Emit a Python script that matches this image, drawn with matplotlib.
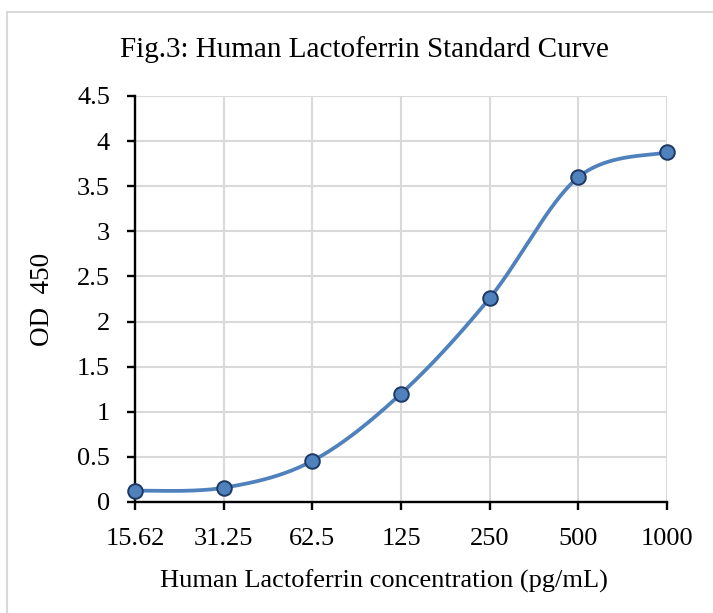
import numpy as np
import matplotlib
matplotlib.use("Agg")
import matplotlib.pyplot as plt
from matplotlib.patches import Rectangle

concentrations = ["15.62", "31.25", "62.5", "125", "250", "500", "1000"]
od450 = [0.125, 0.158, 0.455, 1.20, 2.26, 3.60, 3.877]

title = "Fig.3: Human Lactoferrin Standard Curve"
xlabel = "Human Lactoferrin concentration (pg/mL)"
ylabel = "OD  450"

plt.rcParams['font.family'] = ['Liberation Serif', 'DejaVu Serif']

fig = plt.figure(figsize=(7.13, 6.13), dpi=100)
ax = fig.add_axes([135/713, 1-502/613, (667-135)/713, (502-96)/613])

x = np.arange(len(concentrations), dtype=float)
y = np.array(od450, dtype=float)

# Excel-style smoothed line (Bezier with tangent = (P[i+1]-P[i-1])/6)
P = np.column_stack([x, y])
Pext = np.vstack([P[0], P, P[-1]])
curve = []
t = np.linspace(0, 1, 60)[:, None]
for i in range(len(P) - 1):
    p0 = Pext[i + 1]
    p3 = Pext[i + 2]
    c1 = p0 + (Pext[i + 2] - Pext[i]) / 6
    c2 = p3 - (Pext[i + 3] - Pext[i + 1]) / 6
    seg = ((1 - t) ** 3) * p0 + 3 * ((1 - t) ** 2) * t * c1 + 3 * (1 - t) * t ** 2 * c2 + t ** 3 * p3
    curve.append(seg)
curve = np.vstack(curve)

ax.plot(curve[:, 0], curve[:, 1], color='#4F81BD', lw=2.7, zorder=3, solid_capstyle='round')
ax.plot(x, y, 'o', ms=10.5, mfc='#4F81BD', mec='#1F3864', mew=1.4, zorder=4, clip_on=False)

ax.set_xlim(0, len(concentrations) - 1)
ax.set_ylim(0, 4.5)
ax.set_xticks(x)
ax.set_xticklabels(concentrations)
ax.set_yticks(np.arange(0, 4.51, 0.5))
ax.set_yticklabels(["0", "0.5", "1", "1.5", "2", "2.5", "3", "3.5", "4", "4.5"])

ax.grid(True, color='#D9D9D9', lw=1.5)
ax.set_axisbelow(True)
for s in ['top', 'right']:
    ax.spines[s].set_visible(False)
for s in ['left', 'bottom']:
    ax.spines[s].set_linewidth(1.7)
    ax.spines[s].set_color('black')
ax.tick_params(axis='both', direction='out', length=6, width=1.7, labelsize=19, colors='black')
ax.tick_params(axis='x', pad=13)
ax.tick_params(axis='y', pad=12)

ax.set_xlabel(xlabel, fontsize=19, labelpad=14, x=(384-135)/532)
ax.set_ylabel(ylabel, fontsize=19.5, labelpad=16)
fig.text(364/713, 1-50/613, title, fontsize=21, ha='center', va='center')

fig.patches.append(Rectangle((7/713, -0.05), 1.2, 1 - 12/613 + 0.05, transform=fig.transFigure,
                             fill=False, edgecolor='#D9D9D9', lw=1.5))

fig.savefig("out.png", dpi=100)
